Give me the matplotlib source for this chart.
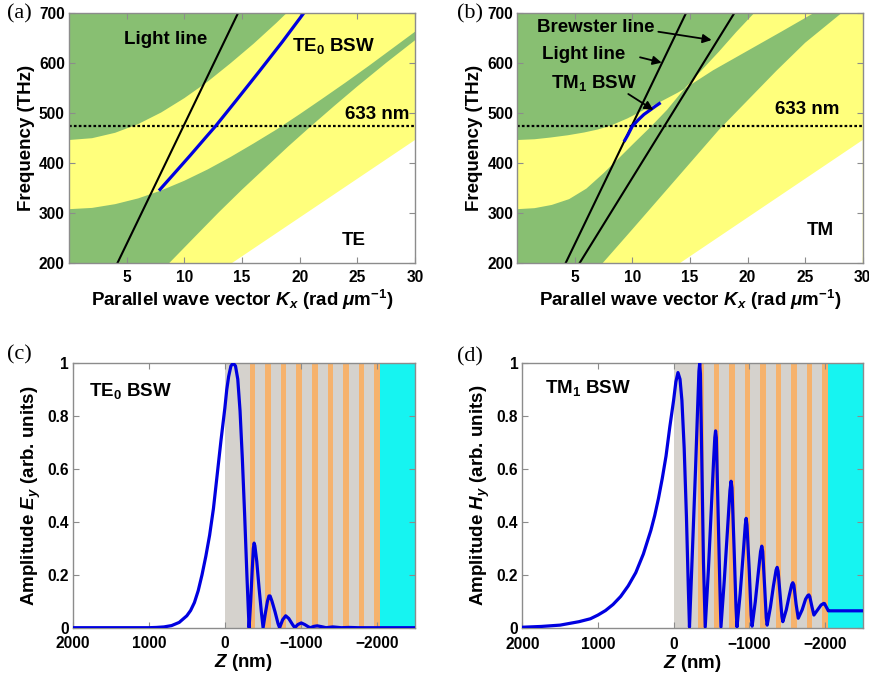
import matplotlib
matplotlib.use("Agg")
import matplotlib.pyplot as plt

plt.rcParams['font.family'] = ['Liberation Sans', 'DejaVu Sans']
plt.rcParams['font.weight'] = 'bold'
plt.rcParams['mathtext.fontset'] = 'custom'
plt.rcParams['mathtext.rm'] = 'Liberation Sans:bold'
plt.rcParams['mathtext.it'] = 'Liberation Sans:bold:italic'
plt.rcParams['mathtext.bf'] = 'Liberation Sans:bold'

GREEN = '#88BF72'
YELLOW = '#FFFF7C'
GRAY = '#D5D2CD'
ORANGE = '#F6B26C'
CYAN = '#16F4F1'
BLUE = '#0000E0'
FRAME = '#8C8C8C'

# ---------------- band diagram data (k in rad/um, f in THz) ----------------
# TE: lower edge of the upper allowed band
te_upper_band_k = [0, 2, 4, 6, 8, 10, 12, 14, 16, 18, 18.9]
te_upper_band_f = [446, 449.6, 460.4, 477.8, 501, 529.5, 562, 599, 638, 680, 700]
# TE: upper edge of the middle allowed band
te_mid_top_k = [0, 2, 4, 6, 8, 10, 12, 14, 16, 18, 20, 22, 24, 26, 28, 30]
te_mid_top_f = [308, 310.5, 318, 329.5, 345.4, 364.7, 387, 412, 439, 467, 497.5, 529, 561, 594, 628, 662]
# TE: lower edge of the middle allowed band
te_mid_bot_k = [8.67, 11, 13, 15, 17, 19, 20.8, 23, 25, 27.5, 30]
te_mid_bot_f = [200, 255, 302, 347, 390, 433, 470, 514, 553, 600, 645]

# TM: lower edge of the upper allowed band (gap closes on the Brewster line)
tm_upper_band_k = [0, 1.5, 2.9, 4.4, 5.8, 7.0, 8.1, 9.56, 11, 12.45, 13.9, 14.5,
                   16.0, 17.5, 19.0, 20.6]
tm_upper_band_f = [446, 447.5, 451, 455.5, 461, 467, 474.6, 489, 506, 522.5, 540, 548,
                   585, 622, 661, 700]
# TM: upper edge of the middle allowed band
tm_mid_top_k = [0, 1.5, 3, 4.5, 6, 7.5, 8.7, 10.1, 11.6, 13.0, 14.5, 17.0, 20.0, 23.0, 25.8]
tm_mid_top_f = [308, 310, 316.5, 328, 349, 380, 407, 439, 472.6, 506, 548, 585, 624, 663, 700]
# TM: lower edge of the middle allowed band
tm_mid_bot_k = [7.4, 10, 12.5, 15, 17.5, 20, 22.5, 25, 28.2]
tm_mid_bot_f = [200, 268, 334, 400, 466, 525, 584, 640, 700]

# substrate light line (below it: no propagating states)
sub_line_k = [14.1, 30]
sub_line_f = [200, 446]

# light line and Brewster line
light_k = [4.19, 14.67]
light_f = [200, 700]
brewster_k = [5.4, 18.87]
brewster_f = [200, 700]

# Bloch surface wave dispersion
te0_k = [7.8, 9, 10.5, 12, 12.72, 14.5, 16.5, 18.5, 20.38]
te0_f = [345, 376, 415, 455, 474, 525, 583, 642, 700]
tm1_k = [9.27, 9.6, 10.0, 10.5, 11.0, 11.55, 12.0, 12.45]
tm1_f = [442.7, 456, 474, 486, 497, 506, 513.5, 520.5]

f_633 = 473.6

# ---------------- field profiles ----------------
# multilayer stack below the surface (nm): thickness and material
layer_thickness = [325, 75, 130, 75, 130, 75, 130, 75, 130, 75, 130,
                   75, 130, 75, 130, 75, 130, 75]
layer_kind = ['g', 'o', 'g', 'o', 'g', 'o', 'g', 'o', 'g', 'o', 'g',
              'o', 'g', 'o', 'g', 'o', 'g', 'o']

te_z = [2000, 1000, 900, 800, 700, 600, 500, 450, 400, 350, 300, 250, 200, 150, 100, 50, 0,
        -25, -50, -80, -110, -140, -170, -200, -230, -260, -290, -310, -319,
        -340, -360, -375, -385, -395, -420, -450, -480, -503,
        -530, -560, -580, -595, -620, -660, -700, -720,
        -760, -800, -840, -890, -920,
        -960, -1005, -1050, -1100, -1125,
        -1170, -1215, -1270, -1330, -1420, -1530, -1630, -1750, -2500]
te_amp = [0.0, 0.0, 0.001, 0.003, 0.008, 0.02, 0.045, 0.065, 0.095, 0.14, 0.2, 0.27, 0.35,
          0.45, 0.58, 0.71, 0.83,
          0.9, 0.95, 0.99, 1.0, 0.99, 0.94, 0.82, 0.64, 0.43, 0.2, 0.06, 0.0,
          0.1, 0.22, 0.3, 0.32, 0.31, 0.25, 0.15, 0.06, 0.0,
          0.05, 0.1, 0.12, 0.12, 0.1, 0.06, 0.015, 0.0,
          0.03, 0.045, 0.035, 0.012, 0.0,
          0.012, 0.018, 0.012, 0.003, 0.0,
          0.005, 0.007, 0.004, 0.0, 0.003, 0.0, 0.001, 0.0, 0.0]

tm_z = [2000, 1750, 1500, 1250, 1100, 1000, 900, 800, 700, 600, 500, 400, 300, 250, 200,
        150, 100, 50, 0,
        -30, -58, -85, -110, -140, -170, -195, -210,
        -250, -290, -320, -335, -345, -355, -375, -395, -418,
        -460, -500, -530, -545, -555, -565, -590, -610, -626,
        -670, -710, -745, -760, -772, -800, -825, -838,
        -880, -920, -948, -959, -970, -1000, -1025, -1038,
        -1080, -1120, -1150, -1166, -1178, -1205, -1225, -1237,
        -1280, -1320, -1355, -1369, -1382, -1410, -1432, -1444,
        -1490, -1530, -1562, -1576, -1590, -1620, -1648,
        -1700, -1745, -1775, -1788, -1800, -1830, -1855,
        -1900, -1950, -1985, -1996, -2010, -2035, -2045, -2500]
tm_amp = [0.004, 0.007, 0.012, 0.025, 0.036, 0.05, 0.067, 0.09, 0.12, 0.16, 0.21, 0.28, 0.37,
          0.425, 0.49, 0.565, 0.65, 0.76, 0.86,
          0.93, 0.965, 0.94, 0.86, 0.68, 0.42, 0.15, 0.005,
          0.3, 0.6, 0.85, 0.97, 1.0, 0.96, 0.6, 0.25, 0.005,
          0.22, 0.46, 0.64, 0.72, 0.745, 0.72, 0.42, 0.18, 0.005,
          0.18, 0.36, 0.52, 0.555, 0.53, 0.3, 0.08, 0.005,
          0.13, 0.28, 0.39, 0.415, 0.39, 0.22, 0.05, 0.008,
          0.1, 0.21, 0.29, 0.31, 0.29, 0.15, 0.04, 0.012,
          0.08, 0.16, 0.22, 0.23, 0.215, 0.12, 0.045, 0.025,
          0.07, 0.125, 0.165, 0.172, 0.163, 0.09, 0.038,
          0.07, 0.11, 0.124, 0.126, 0.12, 0.08, 0.05,
          0.068, 0.088, 0.094, 0.093, 0.085, 0.072, 0.066, 0.066]

LABEL_FS = 13.5
TEXT_FS = 13.5
TICK_FS = 11.2

fig = plt.figure(figsize=(8.69, 6.77), dpi=100)
W, H = 869.0, 677.0


def add_axes(left, top, right, bottom):
    return fig.add_axes([left / W, 1 - bottom / H, (right - left) / W, (bottom - top) / H])


def style(ax, xpad):
    for sp in ax.spines.values():
        sp.set_color(FRAME)
        sp.set_linewidth(1.0)
    ax.tick_params(direction='in', top=True, right=True, length=4, width=0.8,
                   color=FRAME, labelsize=TICK_FS)
    ax.tick_params(axis='x', pad=xpad)
    ax.tick_params(axis='y', pad=3)
    for lab in ax.get_xticklabels() + ax.get_yticklabels():
        lab.set_fontweight('bold')


def band_panel(ax, up_k, up_f, mt_k, mt_f, mb_k, mb_f):
    ax.set_facecolor(YELLOW)
    # upper allowed band
    ax.fill(list(up_k) + [0], list(up_f) + [700], color=GREEN, lw=0)
    # middle allowed band
    xs = list(mt_k) + list(mb_k[::-1]) + [0]
    ys = list(mt_f) + list(mb_f[::-1]) + [200]
    ax.fill(xs, ys, color=GREEN, lw=0)
    # below the substrate light line
    ax.fill(sub_line_k + [30], sub_line_f + [200], color='white', lw=0)
    ax.axhline(f_633, color='black', ls=(0, (1.2, 1.0)), lw=1.6)
    ax.plot(light_k, light_f, color='black', lw=1.5)
    ax.set_xlim(0, 30)
    ax.set_ylim(200, 700)
    ax.set_xticks([5, 10, 15, 20, 25, 30])
    ax.set_yticks([200, 300, 400, 500, 600, 700])
    ax.set_xlabel(r'Parallel wave vector $K_x$ (rad $\mu$m$^{-1}$)', fontsize=LABEL_FS,
                  fontweight='bold', labelpad=2)
    ax.set_ylabel('Frequency (THz)', fontsize=LABEL_FS, fontweight='bold', labelpad=3)
    style(ax, 5)


# (a) TE band diagram
axa = add_axes(69, 12.7, 415, 263.3)
band_panel(axa, te_upper_band_k, te_upper_band_f, te_mid_top_k, te_mid_top_f,
           te_mid_bot_k, te_mid_bot_f)
axa.plot(te0_k, te0_f, color=BLUE, lw=2.3, solid_capstyle='butt')
axa.text(8.38, 637, 'Light line', fontsize=TEXT_FS, fontweight='bold', ha='center', va='baseline')
axa.text(22.9, 624, r'TE$_0$ BSW', fontsize=TEXT_FS, fontweight='bold', ha='center', va='baseline')
axa.text(26.7, 488.6, '633 nm', fontsize=TEXT_FS, fontweight='bold', ha='center', va='baseline')
axa.text(24.65, 236.6, 'TE', fontsize=TEXT_FS, fontweight='bold', ha='center', va='baseline')

# (b) TM band diagram
axb = add_axes(517.3, 12.7, 862.7, 263.3)
band_panel(axb, tm_upper_band_k, tm_upper_band_f, tm_mid_top_k, tm_mid_top_f,
           tm_mid_bot_k, tm_mid_bot_f)
axb.plot(brewster_k, brewster_f, color='black', lw=1.5)
axb.plot(tm1_k, tm1_f, color=BLUE, lw=2.3, solid_capstyle='butt')
axb.text(25.2, 497.2, '633 nm', fontsize=TEXT_FS, fontweight='bold', ha='center', va='baseline')
axb.text(26.35, 256.5, 'TM', fontsize=TEXT_FS, fontweight='bold', ha='center', va='baseline')
arrow = dict(arrowstyle='-|>', color='black', lw=1.3, mutation_scale=13, shrinkA=0, shrinkB=0)
axb.annotate('', xy=(16.88, 645.5), xytext=(12.25, 662), arrowprops=arrow)
axb.annotate('', xy=(12.54, 600.3), xytext=(10.66, 611), arrowprops=arrow)
axb.annotate('', xy=(11.82, 505.9), xytext=(9.64, 537.8), arrowprops=arrow)
axb.text(6.82, 660.8, 'Brewster line', fontsize=TEXT_FS, fontweight='bold', ha='center', va='baseline')
axb.text(5.79, 607, 'Light line', fontsize=TEXT_FS, fontweight='bold', ha='center', va='baseline')
axb.text(6.68, 550.4, r'TM$_1$ BSW', fontsize=TEXT_FS, fontweight='bold', ha='center', va='baseline')


def profile_panel(ax, z, amp, ylabel):
    top = 0.0
    for t, kind in zip(layer_thickness, layer_kind):
        ax.axvspan(top, top - t, color=GRAY if kind == 'g' else ORANGE, lw=0, zorder=0)
        top -= t
    ax.axvspan(top, -2500, color=CYAN, lw=0, zorder=0)
    ax.plot(z, amp, color=BLUE, lw=2.3, zorder=3)
    ax.set_xlim(2000, -2500)
    ax.set_ylim(0, 1)
    ax.set_xticks([2000, 1000, 0, -1000, -2000])
    ax.set_yticks([0, 0.2, 0.4, 0.6, 0.8, 1])
    ax.set_yticklabels(['0', '0.2', '0.4', '0.6', '0.8', '1'])
    ax.set_xlabel(r'$Z$ (nm)', fontsize=LABEL_FS, fontweight='bold', labelpad=1)
    ax.set_ylabel(ylabel, fontsize=LABEL_FS, fontweight='bold', labelpad=3)
    style(ax, 6)


# (c) TE0 field profile
axc = add_axes(72.7, 363.3, 415, 627.7)
profile_panel(axc, te_z, te_amp, r'Amplitude $E_y$ (arb. units)')
axc.text(1782, 0.877, r'TE$_0$ BSW', fontsize=TEXT_FS, fontweight='bold', ha='left', va='baseline')

# (d) TM1 field profile
axd = add_axes(522.3, 363.3, 862.7, 628.3)
profile_panel(axd, tm_z, tm_amp, r'Amplitude $H_y$ (arb. units)')
axd.text(1699, 0.887, r'TM$_1$ BSW', fontsize=TEXT_FS, fontweight='bold', ha='left', va='baseline')

# panel letters
for (px, py), s in zip([(19.5, 14), (469.5, 14), (19.7, 355), (469.5, 357)],
                       ['(a)', '(b)', '(c)', '(d)']):
    fig.text(px / W, 1 - py / H, s, fontsize=16, fontweight='normal',
             family=['Liberation Serif'], ha='center', va='center')

fig.savefig('out.png', dpi=100)
